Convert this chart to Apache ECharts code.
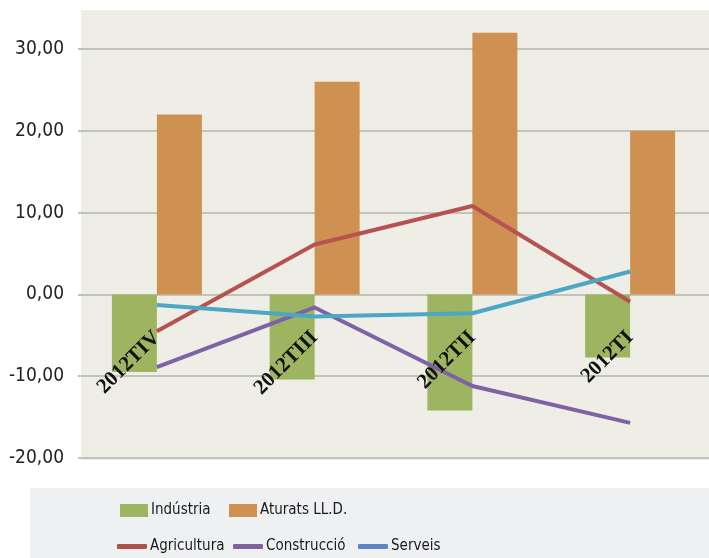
<!DOCTYPE html>
<html><head><meta charset="utf-8">
<script src="https://cdn.jsdelivr.net/npm/echarts@6/dist/echarts.min.js"></script>
<style>html,body{margin:0;padding:0;background:#fff}#c{width:709px;height:558px}</style>
</head><body><div id="c"></div>
<script>
var categories = ['2012TIV', '2012TIII', '2012TII', '2012TI'];
var industria = [-9.5, -10.4, -14.2, -7.7];
var aturats = [22.0, 26.0, 32.0, 20.0];
var agricultura = [-4.5, 6.1, 10.8, -0.9];
var construccio = [-8.9, -1.6, -11.2, -15.7];
var serveis = [-1.3, -2.7, -2.3, 2.8];
var yTicks = { min: -20, max: 30, interval: 10 };

var sansN = '"DejaVu Sans Condensed","Liberation Sans Narrow","Roboto",sans-serif';
var chart = echarts.init(document.getElementById('c'), null, { renderer: 'canvas' });

var gridTop = 49, gridHeight = 409;
// distance from grid bottom (value -20) up to value 0
var zeroOffset = gridHeight * (0 - yTicks.min) / (yTicks.max - yTicks.min);

function legendItem(name, left, top, icon, w, h, color) {
  return {
    show: true, left: left, top: top, padding: 0, orient: 'horizontal',
    data: [{ name: name, icon: icon, itemStyle: { color: color } }],
    itemWidth: w, itemHeight: h, itemGap: 0,
    selectedMode: false,
    textStyle: { fontFamily: sansN, fontSize: 15, color: '#1a1a1a', padding: [0, 0, 0, -2] }
  };
}

chart.setOption({
  animation: false,
  graphic: [
    { type: 'rect', z: -10, shape: { x: 81, y: 10, width: 628, height: 450 }, style: { fill: '#eeeee6' }, silent: true },
    { type: 'rect', z: -10, shape: { x: 30, y: 488, width: 679, height: 70 }, style: { fill: '#eff0f2' }, silent: true }
  ],
  grid: { left: 78, top: gridTop, width: 640, height: gridHeight, containLabel: false },
  legend: [
    legendItem('Indústria', 120, 503, 'rect', 28, 13, '#9db460'),
    legendItem('Aturats LL.D.', 229, 503, 'rect', 28, 13, '#cf9152'),
    legendItem('Agricultura', 117, 539, 'roundRect', 30, 5, '#b0504a'),
    legendItem('Construcció', 233, 539, 'roundRect', 30, 5, '#7f63a1'),
    legendItem('Serveis', 358, 539, 'roundRect', 30, 5, '#5b86c4')
  ],
  xAxis: {
    type: 'category', data: categories, position: 'bottom', offset: -zeroOffset, z: 20,
    axisLine: { show: false, onZero: false },
    axisTick: { show: false },
    splitLine: { show: false },
    axisLabel: { rotate: 45, margin: 40, interval: 0, fontFamily: '"Liberation Serif","DejaVu Serif",serif', fontSize: 21, fontWeight: 'bold', color: '#111' }
  },
  yAxis: {
    type: 'value', min: yTicks.min, max: yTicks.max, interval: yTicks.interval,
    axisLine: { show: false }, axisTick: { show: false },
    splitLine: { show: true, lineStyle: { color: '#c2c3bb', width: 2 } },
    axisLabel: {
      margin: 14, fontFamily: sansN, fontSize: 19, color: '#222',
      formatter: function (v) { return v.toFixed(2).replace('.', ','); }
    }
  },
  series: [
    { name: 'Indústria', type: 'bar', data: industria, barWidth: 45, barGap: '0%', clip: false, itemStyle: { color: '#9db460' }, z: 2 },
    { name: 'Aturats LL.D.', type: 'bar', data: aturats, barWidth: 45, barGap: '0%', clip: false, itemStyle: { color: '#cf9152' }, z: 2 },
    { name: 'Agricultura', type: 'line', data: agricultura, symbol: 'none', lineStyle: { color: '#b6524f', width: 4 }, itemStyle: { color: '#b6524f' }, z: 3 },
    { name: 'Construcció', type: 'line', data: construccio, symbol: 'none', lineStyle: { color: '#7d63a6', width: 4 }, itemStyle: { color: '#7d63a6' }, z: 3 },
    { name: 'Serveis', type: 'line', data: serveis, symbol: 'none', lineStyle: { color: '#4ba7c4', width: 4 }, itemStyle: { color: '#4ba7c4' }, z: 3 }
  ]
});
</script></body></html>
